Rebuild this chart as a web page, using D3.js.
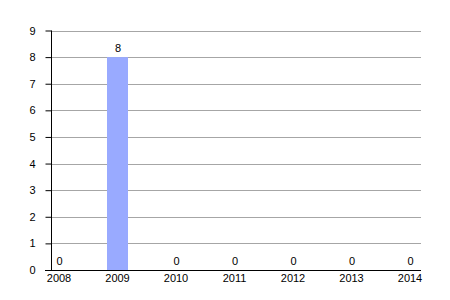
<!DOCTYPE html>
<html>
<head>
<meta charset="utf-8">
<script src="https://cdn.jsdelivr.net/npm/d3@7"></script>
<style>
  body { margin: 0; background: #fff; }
  text { font-family: "Liberation Sans", Arial, sans-serif; font-size: 11px; fill: #000; }
</style>
</head>
<body>
<svg id="chart" width="450" height="300"></svg>
<script>
// chart data
const years = ["2008", "2009", "2010", "2011", "2012", "2013", "2014"];
const counts = [0, 8, 0, 0, 0, 0, 0];
const yTicks = [0, 1, 2, 3, 4, 5, 6, 7, 8, 9];

let svg = d3.select("#chart");

let plotLeft = 51, plotRight = 421, plotTop = 30.5, plotBottom = 270;

let x = d3.scalePoint()
    .domain(years)
    .range([58.5, 409.5]);

let y = d3.scaleLinear()
    .domain([0, 9])
    .range([plotBottom, plotTop]);

// gridlines
svg.append("g")
    .selectAll("line")
    .data(yTicks.filter(d => d > 0))
    .enter()
    .append("line")
    .attr("x1", plotLeft)
    .attr("x2", plotRight)
    .attr("y1", d => Math.round(y(d)) + 0.5)
    .attr("y2", d => Math.round(y(d)) + 0.5)
    .attr("stroke", "#a6a6a6")
    .attr("stroke-width", 1);

let rows = years.map((d, i) => ({ year: d, value: counts[i] }));

// bars
let barW = 21;
svg.append("g")
    .selectAll("rect")
    .data(rows)
    .enter()
    .append("rect")
    .attr("x", d => x(d.year) - barW / 2 + 0.5)
    .attr("y", d => y(d.value))
    .attr("width", barW)
    .attr("height", d => plotBottom - y(d.value))
    .attr("fill", "#99aaff");

// value labels
svg.append("g")
    .selectAll("text")
    .data(rows)
    .enter()
    .append("text")
    .attr("x", d => x(d.year) + 1)
    .attr("y", d => y(d.value) - 5)
    .attr("text-anchor", "middle")
    .text(d => d.value);

// y axis
let yAxis = d3.axisLeft(y)
    .tickValues(yTicks)
    .tickSize(6)
    .tickPadding(10)
    .tickFormat(d3.format("d"));

let gy = svg.append("g")
    .attr("transform", `translate(${plotLeft + 0.5},0)`)
    .call(yAxis);
gy.select(".domain").attr("d", `M0,${plotTop}V${plotBottom}`).attr("stroke", "#000");
gy.selectAll(".tick line").attr("stroke", "#000");
gy.selectAll(".tick text")
    .style("font-family", "Liberation Sans, Arial, sans-serif")
    .style("font-size", "11px");

// x axis
let xAxis = d3.axisBottom(x)
    .tickSize(0)
    .tickPadding(4);

let gx = svg.append("g")
    .attr("transform", `translate(0,${plotBottom + 0.5})`)
    .call(xAxis);
gx.select(".domain").attr("d", `M${plotLeft - 6},0H${plotRight}`).attr("stroke", "#000");
gx.selectAll(".tick text")
    .style("font-family", "Liberation Sans, Arial, sans-serif")
    .style("font-size", "11px");
</script>
</body>
</html>
